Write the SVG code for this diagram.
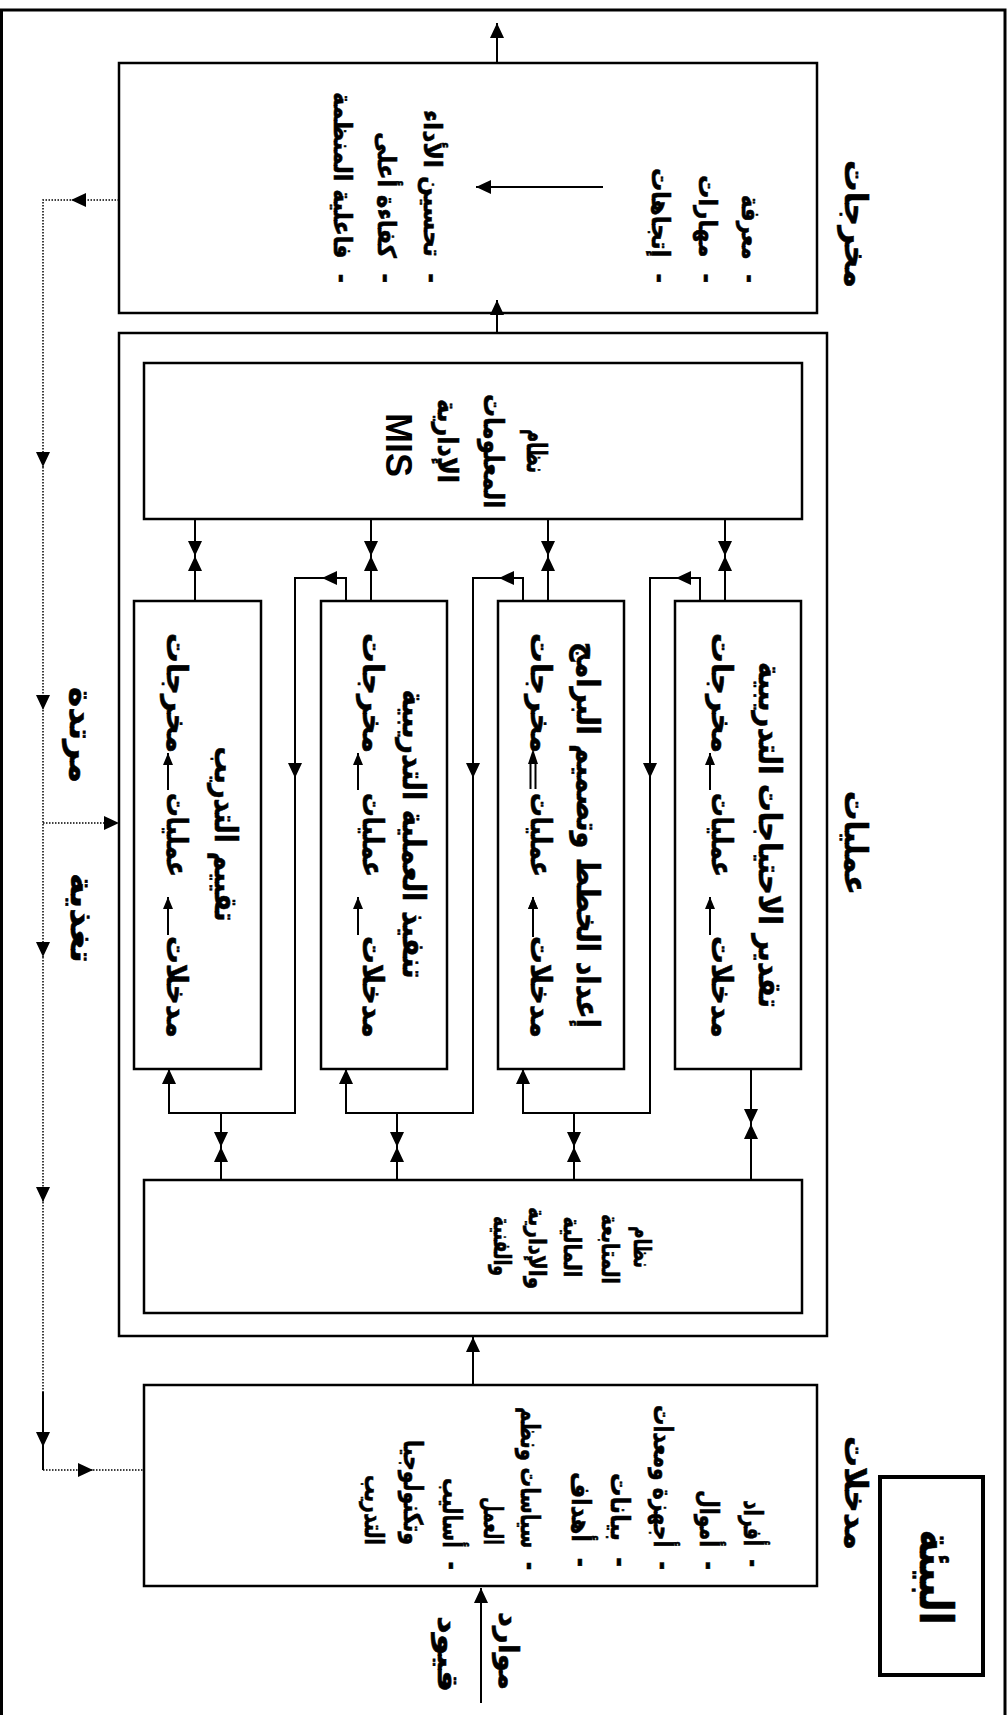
<svg xmlns="http://www.w3.org/2000/svg" width="1008" height="1715" viewBox="0 0 1008 1715">
<defs>
<style>
.bx{fill:#fff;stroke:#000;stroke-width:2.5}
.c{fill:none;stroke:#000;stroke-width:2}
.d{fill:none;stroke:#000;stroke-width:1.5;stroke-dasharray:1.5 1.5}
.ar{font-family:"DejaVu Sans",sans-serif;font-weight:bold;direction:rtl;text-anchor:middle;dominant-baseline:central;white-space:pre;fill:#000;stroke:#000;stroke-width:0.6}
.en{font-family:"Liberation Sans",Arial,sans-serif;font-weight:bold;text-anchor:middle;dominant-baseline:central;fill:#000}
</style>
<marker id="a" viewBox="0 0 15 14" refX="15" refY="7" markerWidth="15" markerHeight="14" markerUnits="userSpaceOnUse" orient="auto"><path d="M0,0L15,7L0,14z"/></marker>
<marker id="s" viewBox="0 0 12 10" refX="12" refY="5" markerWidth="12" markerHeight="10" markerUnits="userSpaceOnUse" orient="auto"><path d="M0,0L12,5L0,10z"/></marker>
</defs>
<rect x="1.5" y="10" width="1003.5" height="1712" fill="none" stroke="#000" stroke-width="3"/>

<g id="label-outputs"><text class="ar" transform="translate(856,224) rotate(90)" font-size="31" textLength="128" lengthAdjust="spacingAndGlyphs">مخرجات</text></g>
<g id="label-processes"><text class="ar" transform="translate(856,843) rotate(90)" font-size="31" textLength="104" lengthAdjust="spacingAndGlyphs">عمليات</text></g>
<g id="label-inputs"><text class="ar" transform="translate(856,1493) rotate(90)" font-size="31" textLength="114" lengthAdjust="spacingAndGlyphs">مدخلات</text></g>
<g id="label-feedback">
<text class="ar" transform="translate(81,735) rotate(90)" font-size="32" textLength="96" lengthAdjust="spacingAndGlyphs">مرتدة</text>
<text class="ar" transform="translate(82,918) rotate(90)" font-size="32" textLength="90" lengthAdjust="spacingAndGlyphs">تغذية</text>
</g>

<g id="outputs">
<rect class="bx" x="119" y="63" width="698" height="250"/>
<text class="ar" transform="translate(750,239) rotate(90)" font-size="25" textLength="88" lengthAdjust="spacingAndGlyphs">-  معرفة</text>
<text class="ar" transform="translate(707,229) rotate(90)" font-size="25" textLength="108" lengthAdjust="spacingAndGlyphs">-  مهارات</text>
<text class="ar" transform="translate(660,225.5) rotate(90)" font-size="25" textLength="115" lengthAdjust="spacingAndGlyphs">-  إتجاهات</text>
<text class="ar" transform="translate(432,196.5) rotate(90)" font-size="25" textLength="173" lengthAdjust="spacingAndGlyphs">-  تحسين الأداء</text>
<text class="ar" transform="translate(386,207.5) rotate(90)" font-size="25" textLength="151" lengthAdjust="spacingAndGlyphs">-  كفاءة أعلى</text>
<text class="ar" transform="translate(342,187.5) rotate(90)" font-size="25" textLength="191" lengthAdjust="spacingAndGlyphs">-  فاعلية المنظمة</text>
<path class="c" d="M603,187H476" marker-end="url(#a)"/>
</g>

<g id="processes">
<rect class="bx" x="119" y="333" width="708" height="1003"/>
</g>

<g id="mis">
<rect class="bx" x="144" y="363" width="658" height="156"/>
<text class="ar" transform="translate(536,451) rotate(90)" font-size="28" textLength="44" lengthAdjust="spacingAndGlyphs">نظام</text>
<text class="ar" transform="translate(493,451) rotate(90)" font-size="28" textLength="114" lengthAdjust="spacingAndGlyphs">المعلومات</text>
<text class="ar" transform="translate(447,441) rotate(90)" font-size="28" textLength="84" lengthAdjust="spacingAndGlyphs">الإدارية</text>
<text class="en" transform="translate(398,445) rotate(90)" font-size="36">MIS</text>
</g>

<g id="needs">
<rect class="bx" x="675" y="601" width="126" height="468"/>
<text class="ar" transform="translate(770,835) rotate(90)" font-size="31" textLength="346" lengthAdjust="spacingAndGlyphs">تقدير الاحتياجات التدريبية</text>
<text class="ar" transform="translate(722,693) rotate(90)" font-size="29" textLength="120" lengthAdjust="spacingAndGlyphs">مخرجات</text>
<text class="ar" transform="translate(722,835) rotate(90)" font-size="29" textLength="84" lengthAdjust="spacingAndGlyphs">عمليات</text>
<text class="ar" transform="translate(722,987) rotate(90)" font-size="29" textLength="102" lengthAdjust="spacingAndGlyphs">مدخلات</text>
<path class="c" d="M710,790V753" marker-end="url(#s)"/>
<path class="c" d="M710,935V897" marker-end="url(#s)"/>
</g>

<g id="design">
<rect class="bx" x="498" y="601" width="126" height="468"/>
<text class="ar" transform="translate(588,835) rotate(90)" font-size="31" textLength="386" lengthAdjust="spacingAndGlyphs">إعداد الخطط وتصميم البرامج</text>
<text class="ar" transform="translate(541,693) rotate(90)" font-size="29" textLength="120" lengthAdjust="spacingAndGlyphs">مخرجات</text>
<text class="ar" transform="translate(541,835) rotate(90)" font-size="29" textLength="84" lengthAdjust="spacingAndGlyphs">عمليات</text>
<text class="ar" transform="translate(541,987) rotate(90)" font-size="29" textLength="102" lengthAdjust="spacingAndGlyphs">مدخلات</text>
<path d="M533,749L538,764H528z"/>
<path class="c" d="M530.5,764V789M535.5,764V789"/>
<path class="c" d="M533,937V897" marker-end="url(#s)"/>
<path d="M533,897L538,909H528z"/>
</g>

<g id="delivery">
<rect class="bx" x="321" y="601" width="126" height="468"/>
<text class="ar" transform="translate(414,834) rotate(90)" font-size="31" textLength="289" lengthAdjust="spacingAndGlyphs">تنفيذ العملية التدريبية</text>
<text class="ar" transform="translate(373,693) rotate(90)" font-size="29" textLength="120" lengthAdjust="spacingAndGlyphs">مخرجات</text>
<text class="ar" transform="translate(373,835) rotate(90)" font-size="29" textLength="84" lengthAdjust="spacingAndGlyphs">عمليات</text>
<text class="ar" transform="translate(373,987) rotate(90)" font-size="29" textLength="102" lengthAdjust="spacingAndGlyphs">مدخلات</text>
<path class="c" d="M358,790V753" marker-end="url(#s)"/>
<path class="c" d="M358,935V897" marker-end="url(#s)"/>
</g>

<g id="evaluation">
<rect class="bx" x="134" y="601" width="127" height="468"/>
<text class="ar" transform="translate(226,834) rotate(90)" font-size="31" textLength="175" lengthAdjust="spacingAndGlyphs">تقييم التدريب</text>
<text class="ar" transform="translate(177,693) rotate(90)" font-size="29" textLength="120" lengthAdjust="spacingAndGlyphs">مخرجات</text>
<text class="ar" transform="translate(177,835) rotate(90)" font-size="29" textLength="84" lengthAdjust="spacingAndGlyphs">عمليات</text>
<text class="ar" transform="translate(177,987) rotate(90)" font-size="29" textLength="102" lengthAdjust="spacingAndGlyphs">مدخلات</text>
<path class="c" d="M168,790V753" marker-end="url(#s)"/>
<path class="c" d="M168,935V897" marker-end="url(#s)"/>
</g>

<g id="monitoring">
<rect class="bx" x="144" y="1180" width="658" height="133"/>
<text class="ar" transform="translate(642,1247) rotate(90)" font-size="24" textLength="42" lengthAdjust="spacingAndGlyphs">نظام</text>
<text class="ar" transform="translate(610,1249) rotate(90)" font-size="24" textLength="70" lengthAdjust="spacingAndGlyphs">المتابعة</text>
<text class="ar" transform="translate(572,1247) rotate(90)" font-size="24" textLength="61" lengthAdjust="spacingAndGlyphs">المالية</text>
<text class="ar" transform="translate(537,1248) rotate(90)" font-size="24" textLength="82" lengthAdjust="spacingAndGlyphs">والإدارية</text>
<text class="ar" transform="translate(502,1246) rotate(90)" font-size="24" textLength="60" lengthAdjust="spacingAndGlyphs">والفنية</text>
</g>

<g id="inputs">
<rect class="bx" x="144" y="1385" width="673" height="201"/>
<text class="ar" transform="translate(753,1533.5) rotate(90)" font-size="26" textLength="67" lengthAdjust="spacingAndGlyphs">-  أفراد</text>
<text class="ar" transform="translate(709,1530) rotate(90)" font-size="26" textLength="80" lengthAdjust="spacingAndGlyphs">-  أموال</text>
<text class="ar" transform="translate(663,1487.5) rotate(90)" font-size="26" textLength="165" lengthAdjust="spacingAndGlyphs">-  أجهزة ومعدات</text>
<text class="ar" transform="translate(620,1520) rotate(90)" font-size="26" textLength="94" lengthAdjust="spacingAndGlyphs">-  بيانات</text>
<text class="ar" transform="translate(581,1519.5) rotate(90)" font-size="26" textLength="95" lengthAdjust="spacingAndGlyphs">-  أهداف</text>
<text class="ar" transform="translate(530,1488.5) rotate(90)" font-size="26" textLength="163" lengthAdjust="spacingAndGlyphs">-  سياسات ونظم</text>
<text class="ar" transform="translate(493,1521) rotate(90)" font-size="26" textLength="48" lengthAdjust="spacingAndGlyphs">العمل</text>
<text class="ar" transform="translate(452,1524) rotate(90)" font-size="26" textLength="92" lengthAdjust="spacingAndGlyphs">-  أساليب</text>
<text class="ar" transform="translate(413,1492.5) rotate(90)" font-size="26" textLength="105" lengthAdjust="spacingAndGlyphs">وتكنولوجيا</text>
<text class="ar" transform="translate(374,1510) rotate(90)" font-size="26" textLength="70" lengthAdjust="spacingAndGlyphs">التدريب</text>
</g>

<g id="environment">
<rect x="880" y="1477" width="103" height="198" fill="#fff" stroke="#000" stroke-width="4"/>
<text class="ar" transform="translate(936,1577) rotate(90)" font-size="46" textLength="95" lengthAdjust="spacingAndGlyphs">البيئة</text>
</g>

<g id="resources-labels">
<text class="ar" transform="translate(508,1651) rotate(90)" font-size="28" textLength="78" lengthAdjust="spacingAndGlyphs">موارد</text>
<text class="ar" transform="translate(447,1654) rotate(90)" font-size="28" textLength="76" lengthAdjust="spacingAndGlyphs">قيود</text>
</g>

<g id="connectors">
<path class="c" d="M497,63V23" marker-end="url(#a)"/>
<path class="c" d="M497,332V300" marker-end="url(#a)"/>
<path class="c" d="M473,1385V1337" marker-end="url(#a)"/>
<path class="c" d="M481,1703V1588" marker-end="url(#a)"/>
<path class="c" d="M195,519V556" marker-end="url(#a)"/>
<path class="c" d="M195,601V556" marker-end="url(#a)"/>
<path class="c" d="M371,519V556" marker-end="url(#a)"/>
<path class="c" d="M371,601V556" marker-end="url(#a)"/>
<path class="c" d="M548,519V556" marker-end="url(#a)"/>
<path class="c" d="M548,601V556" marker-end="url(#a)"/>
<path class="c" d="M725,519V556" marker-end="url(#a)"/>
<path class="c" d="M725,601V556" marker-end="url(#a)"/>
<path class="c" d="M346,601V578H322" marker-end="url(#a)"/>
<path class="c" d="M322,578H295V778" marker-end="url(#a)"/>
<path class="c" d="M295,778V1113H169V1069" marker-end="url(#a)"/>
<path class="c" d="M523,601V578H499" marker-end="url(#a)"/>
<path class="c" d="M499,578H473V778" marker-end="url(#a)"/>
<path class="c" d="M473,778V1113H346V1069" marker-end="url(#a)"/>
<path class="c" d="M700,601V578H676" marker-end="url(#a)"/>
<path class="c" d="M676,578H650V778" marker-end="url(#a)"/>
<path class="c" d="M650,778V1113H523V1069" marker-end="url(#a)"/>
<path class="c" d="M221,1113V1147" marker-end="url(#a)"/>
<path class="c" d="M221,1180V1147" marker-end="url(#a)"/>
<path class="c" d="M397,1113V1147" marker-end="url(#a)"/>
<path class="c" d="M397,1180V1147" marker-end="url(#a)"/>
<path class="c" d="M574,1113V1147" marker-end="url(#a)"/>
<path class="c" d="M574,1180V1147" marker-end="url(#a)"/>
<path class="c" d="M751,1069V1124" marker-end="url(#a)"/>
<path class="c" d="M751,1180V1124" marker-end="url(#a)"/>
<path class="d" d="M119,200H71" marker-end="url(#a)"/>
<path class="d" d="M71,200H43V467" marker-end="url(#a)"/>
<path class="d" d="M43,467V710" marker-end="url(#a)"/>
<path class="d" d="M43,710V957" marker-end="url(#a)"/>
<path class="d" d="M43,957V1202" marker-end="url(#a)"/>
<path class="d" d="M43,1202V1392"/>
<path class="c" d="M43,1392V1447" marker-end="url(#a)"/>
<path class="c" d="M43,1447V1470"/>
<path class="d" d="M43,1470H93" marker-end="url(#a)"/>
<path class="d" d="M93,1470H144"/>
<path class="d" d="M43,823H119" marker-end="url(#a)"/>
</g>
</svg>
